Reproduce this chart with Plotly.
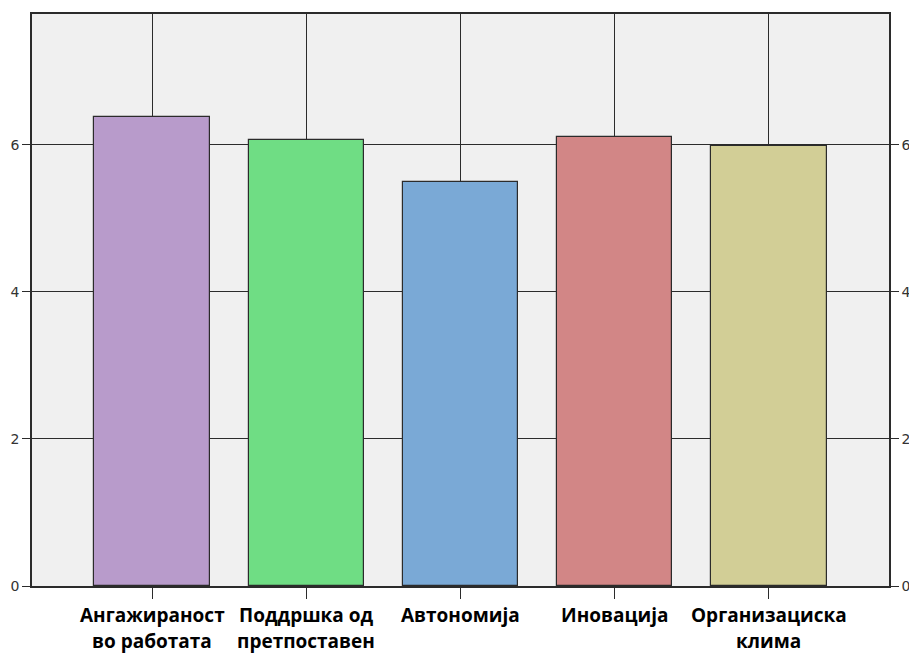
import plotly.graph_objects as go

# Mean scores per dimension
categories = ["Ангажираност\nво работата", "Поддршка од\nпретпоставен",
              "Автономија", "Иновација", "Организациска\nклима"]
values = [6.38, 6.06, 5.50, 6.11, 5.99]
bar_colors = ["#B89BCB", "#6FDD84", "#7AA9D6", "#D28686", "#D2CE96"]
y_ticks = [0, 2, 4, 6]

grid_color = "#2b2b2b"
positions = list(range(len(categories)))

fig = go.Figure()
fig.add_trace(go.Bar(
    x=positions,
    y=values,
    width=0.75,
    marker=dict(color=bar_colors, line=dict(color="#2b2b2b", width=1.2)),
    hoverinfo="y",
))
# invisible trace so the right-hand value axis is drawn
fig.add_trace(go.Scatter(x=[0], y=[0], yaxis="y2", mode="markers",
                         marker=dict(opacity=0), hoverinfo="skip", showlegend=False))

# category labels, one annotation per line for wider line spacing
label_font = dict(family="Open Sans", size=19, color="black", weight="bold")
line_step = 26
for pos, label in zip(positions, categories):
    for i, line in enumerate(label.split("\n")):
        fig.add_annotation(
            x=pos, xref="x", y=0, yref="paper",
            text=line, showarrow=False, font=label_font,
            xanchor="center", yanchor="top", yshift=-14 - i * line_step,
        )

y_common = dict(
    range=[0, 7.78], tickvals=y_ticks, ticks="outside", ticklen=8,
    tickcolor=grid_color, tickwidth=1.2,
    tickfont=dict(family="DejaVu Sans", size=14, color="#333333"),
    showline=True, linecolor=grid_color, linewidth=1.5,
    zeroline=False, fixedrange=True, automargin=False,
)

fig.update_layout(
    width=909, height=653,
    margin=dict(l=32, r=20, t=14, b=67),
    paper_bgcolor="white",
    plot_bgcolor="#F0F0F0",
    showlegend=False,
    bargap=0,
    xaxis=dict(
        range=[-0.78, 4.78],
        tickvals=positions,
        showticklabels=False,
        ticks="outside", ticklen=11, tickcolor=grid_color, tickwidth=1.2,
        showgrid=True, gridcolor=grid_color, gridwidth=1.2,
        showline=True, linecolor=grid_color, linewidth=1.5, mirror=True,
        zeroline=False, fixedrange=True, automargin=False,
    ),
    yaxis=dict(side="left", showgrid=True, gridcolor=grid_color, gridwidth=1.2, **y_common),
    yaxis2=dict(side="right", overlaying="y", showgrid=False, **y_common),
)

fig.write_html("out.html")
